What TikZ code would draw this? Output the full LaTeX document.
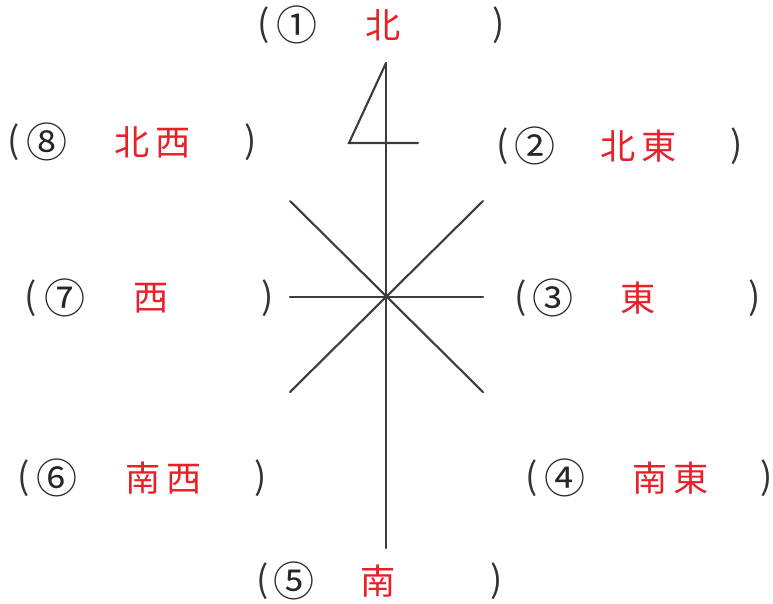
\documentclass[tikz,border=0pt]{standalone}
\usepackage{fontspec}
\newfontfamily\cjk{Noto Sans CJK JP}
\definecolor{dirred}{RGB}{232,32,40}
\definecolor{lineink}{RGB}{60,60,60}
\tikzset{
  compass/.style={draw=lineink, line width=1.8pt, line cap=round, line join=miter},
  lbl/.style={inner sep=0pt, font=\cjk\fontsize{30}{34}\selectfont},
  paren/.style={lbl, text=black!80, font=\cjk\fontsize{31}{34}\selectfont},
  numtag/.style={lbl, text=black!85, font=\cjk\fontsize{35}{38}\selectfont},
  dirword/.style={lbl, text=dirred}
}
\begin{document}
\begin{tikzpicture}[x=0.03cm, y=-0.03cm]
  \useasboundingbox (0,0) rectangle (773,603);
  % Compass lines
  \coordinate (C) at (386,297);
  \coordinate (N) at (386,63);
  \coordinate (S) at (386,548);
  \coordinate (W) at (290,297);
  \coordinate (E) at (483,297);
  \coordinate (NW) at (290,201);
  \coordinate (SE) at (483,392);
  \coordinate (NE) at (483,201);
  \coordinate (SW) at (290,392);
  \coordinate (flagL) at (349,143);
  \coordinate (flagR) at (418,143);
  \draw[compass] (N) -- (S);
  \draw[compass] (W) -- (E);
  \draw[compass] (NW) -- (SE);
  \draw[compass] (NE) -- (SW);
  \draw[compass] (N) -- (flagL) -- (flagR);
  % 1: north
  \node[paren]   (n1l) at (264,25) {(};
  \node[numtag]  (n1n) at (297,25) {①};
  \node[dirword] (n1w) at (383,25) {北};
  \node[paren]   (n1r) at (499,25) {)};
  % 2: north-east
  \node[paren]   (n2l) at (503,146) {(};
  \node[numtag]  (n2n) at (535,146) {②};
  \node[dirword] (n2w) at (639,146) {北\,東};
  \node[paren]   (n2r) at (737,146) {)};
  % 3: east
  \node[paren]   (n3l) at (521,298) {(};
  \node[numtag]  (n3n) at (553,298) {③};
  \node[dirword] (n3w) at (638,298) {東};
  \node[paren]   (n3r) at (755,298) {)};
  % 4: south-east
  \node[paren]   (n4l) at (532,478) {(};
  \node[numtag]  (n4n) at (565,478) {④};
  \node[dirword] (n4w) at (671,478) {南\,東};
  \node[paren]   (n4r) at (767,478) {)};
  % 5: south
  \node[paren]   (n5l) at (263,581) {(};
  \node[numtag]  (n5n) at (294,581) {⑤};
  \node[dirword] (n5w) at (378,581) {南};
  \node[paren]   (n5r) at (497,581) {)};
  % 6: south-west
  \node[paren]   (n6l) at (24,478) {(};
  \node[numtag]  (n6n) at (57,478) {⑥};
  \node[dirword] (n6w) at (164,478) {南\,西};
  \node[paren]   (n6r) at (261,478) {)};
  % 7: west
  \node[paren]   (n7l) at (31,298) {(};
  \node[numtag]  (n7n) at (65,298) {⑦};
  \node[dirword] (n7w) at (151,298) {西};
  \node[paren]   (n7r) at (268,298) {)};
  % 8: north-west
  \node[paren]   (n8l) at (14,142) {(};
  \node[numtag]  (n8n) at (47,142) {⑧};
  \node[dirword] (n8w) at (153,142) {北\,西};
  \node[paren]   (n8r) at (251,142) {)};
\end{tikzpicture}
\end{document}
